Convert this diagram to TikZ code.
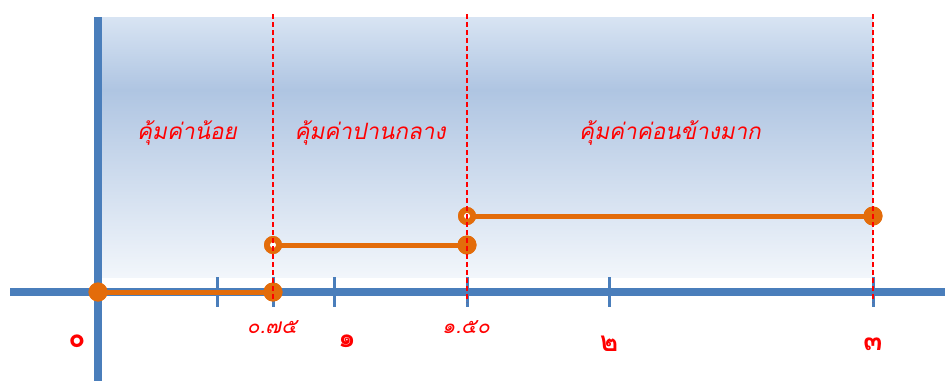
\documentclass[tikz,border=0pt]{standalone}
\usepackage{fontspec}
\newfontfamily\thai[Script=Thai]{Loma}
\newfontfamily\thaisl[Script=Thai,FakeSlant=0.2]{Loma}
\definecolor{axisblue}{HTML}{4A7EBB}
\definecolor{org}{HTML}{E36C0A}
\definecolor{bgtop}{HTML}{D8E4F3}
\definecolor{bgmid}{HTML}{AFC5E2}
\definecolor{bgbot}{HTML}{F2F6FB}
\pgfdeclareverticalshading{bgshade}{100bp}{color(0bp)=(bgbot); color(25bp)=(bgbot); color(61bp)=(bgmid); color(75bp)=(bgtop); color(100bp)=(bgtop)}
\tikzset{
  axisline/.style={draw=axisblue, line width=7.5pt},
  tickline/.style={draw=axisblue, line width=3pt},
  redline/.style={draw=red, line width=1.3pt, dash pattern=on 5pt off 3pt},
  segline/.style={draw=org, line width=5pt},
  dotfill/.style={circle, fill=org, minimum size=19pt, inner sep=0pt},
  dotopen/.style={circle, fill=org, minimum size=18pt, inner sep=0pt, path picture={\fill[white] (path picture bounding box.center) circle (3pt);}},
  numlab/.style={text=red, font=\thai\bfseries\fontsize{28}{30}\selectfont, inner sep=0pt},
  declab/.style={text=red, font=\thaisl\fontsize{21}{23}\selectfont, inner sep=0pt},
  reglab/.style={text=red, font=\thaisl\fontsize{22.5}{25}\selectfont, inner sep=0pt}
}
\begin{document}
\begin{tikzpicture}[x=1pt,y=-1pt]
\useasboundingbox (0,0) rectangle (945,381);
% background gradient
\shade[shading=bgshade] (102,17) rectangle (873,277);
% axes
\coordinate (hl) at (10,292);
\coordinate (hr) at (945,292);
\coordinate (vt) at (98,17);
\coordinate (vb) at (98,381);
\draw[axisline] (hl) -- (hr);
\draw[axisline] (vt) -- (vb);
% ticks
\foreach \x/\n in {217/ta,273/tb,334/tc,467/td,609/te,873/tf}{
  \coordinate (\n1) at (\x,277);
  \coordinate (\n2) at (\x,307);
  \draw[tickline] (\n1) -- (\n2);
}
% dashed red lines
\coordinate (r1t) at (273,14); \coordinate (r1b) at (273,300);
\coordinate (r2t) at (467,14); \coordinate (r2b) at (467,302);
\coordinate (r3t) at (873,14); \coordinate (r3b) at (873,302);
% orange segments
\node[dotfill] (a1) at (98,292) {};
\node[dotfill] (a2) at (273,292) {};
\node[dotopen] (b1) at (273,245) {};
\node[dotfill] (b2) at (467,245) {};
\node[dotopen] (c1) at (467,216) {};
\node[dotfill] (c2) at (873,216) {};
\draw[segline] (a1.center) -- (a2.center);
\draw[segline] (b1.center) -- (b2.center);
\draw[segline] (c1.center) -- (c2.center);
\node[dotfill] at (98,292) {};
\node[dotfill] at (273,292) {};
\node[dotopen] at (273,245) {};
\node[dotfill] at (467,245) {};
\node[dotopen] at (467,216) {};
\node[dotfill] at (873,216) {};
\draw[redline] (r1t) -- (r1b);
\draw[redline] (r2t) -- (r2b);
\draw[redline] (r3t) -- (r3b);
% labels
\node[numlab] (n0) at (77,341) {๐};
\node[numlab] (n1) at (347,341) {๑};
\node[numlab] (n2) at (609,344) {๒};
\node[numlab] (n3) at (873,344) {๓};
\node[declab] (d1) at (272,327) {๐.๗๕};
\node[declab] (d2) at (466,327) {๑.๕๐};
\node[reglab] (g1) at (187,133) {คุ้มค่าน้อย};
\node[reglab] (g2) at (370,133) {คุ้มค่าปานกลาง};
\node[reglab] (g3) at (670,133) {คุ้มค่าค่อนข้างมาก};
\end{tikzpicture}
\end{document}
